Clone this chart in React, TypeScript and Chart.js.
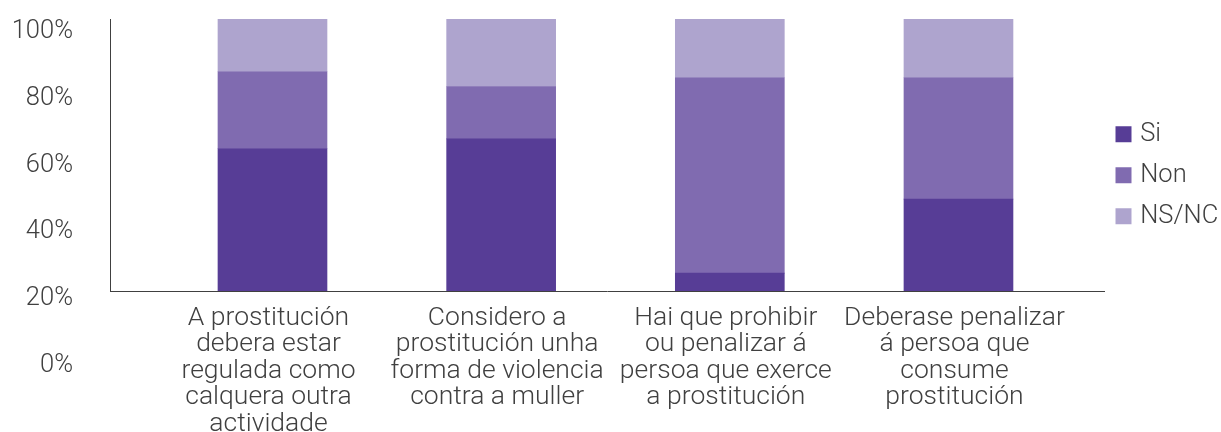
import React, { useEffect, useRef } from 'react';
import { Chart, registerables } from 'chart.js';

Chart.register(...registerables);

// ---- data ----
const categories: string[][] = [
  ['A prostitución', 'debera estar', 'regulada como', 'calquera outra', 'actividade'],
  ['Considero a', 'prostitución unha', 'forma de violencia', 'contra a muller'],
  ['Hai que prohibir', 'ou penalizar á', 'persoa que exerce', 'a prostitución'],
  ['Deberase penalizar', 'á persoa que', 'consume', 'prostitución'],
];
const categoryPositions = [1, 2, 3, 4];
const siValues = [52.3, 55.9, 6.6, 33.8];
const nonValues = [28.3, 19.3, 71.8, 44.6];
const nsncValues = [19.4, 24.8, 21.6, 21.6];
const seriesLabels = ['Si', 'Non', 'NS/NC'];
const seriesColors = ['#573d96', '#806bb0', '#aea4ce'];
const yTickValues = [0, 20, 40, 60, 80, 100];

const TEXT = '#404040';
const FONT = 'Roboto';

export default function App() {
  const ref = useRef<HTMLCanvasElement | null>(null);

  useEffect(() => {
    if (!ref.current) return;
    const series = [siValues, nonValues, nsncValues];
    const chart = new Chart(ref.current, {
      type: 'bar',
      data: {
        datasets: series.map((vals, si) => ({
          label: seriesLabels[si],
          data: vals.map((v, i) => ({ x: categoryPositions[i], y: v })),
          backgroundColor: seriesColors[si],
          borderWidth: 0,
          barThickness: 109,
          yAxisID: 'y',
          xAxisID: 'x',
        })),
      },
      options: {
        responsive: false,
        animation: false,
        layout: { padding: { top: 19, left: 0, right: 0, bottom: 0 } },
        font: { family: FONT },
        plugins: {
          tooltip: { enabled: false },
          legend: {
            position: 'right',
            align: 'start',
            maxWidth: 117,
            title: {
              display: true,
              text: '',
              font: { size: 12, lineHeight: 1 },
              padding: { top: 75, bottom: 0 },
            },
            labels: {
              boxWidth: 8,
              boxHeight: 8,
              padding: 15.5,
              color: TEXT,
              font: { family: FONT, size: 25.5, weight: '300' as any },
              generateLabels: (c: any) =>
                c.data.datasets.map((ds: any, i: number) => ({
                  text: ds.label,
                  fillStyle: ds.backgroundColor,
                  strokeStyle: ds.backgroundColor,
                  lineWidth: 8,
                  lineJoin: 'miter',
                  hidden: false,
                  datasetIndex: i,
                  fontColor: TEXT,
                })),
            },
          },
        },
        scales: {
          x: {
            type: 'linear',
            position: 'bottom',
            stacked: true,
            offset: false,
            min: 0.2894,
            max: 4.6364,
            bounds: 'data',
            grid: { display: false, drawTicks: false, offset: false },
            border: { display: true, color: '#404040', width: 1 },
            afterBuildTicks: (scale: any) => {
              scale.ticks = categoryPositions.map((v) => ({ value: v }));
            },
            afterFit: (scale: any) => {
              scale.height = 141;
              scale.paddingLeft = 0;
              scale.paddingRight = 0;
            },
            ticks: {
              autoSkip: false,
              maxRotation: 0,
              minRotation: 0,
              padding: 14,
              labelOffset: -4,
              color: TEXT,
              font: { family: FONT, size: 26.5, weight: '300' as any, lineHeight: 1.0 },
              callback: (v: any) => {
                const idx = categoryPositions.indexOf(Number(v));
                return idx >= 0 ? categories[idx] : '';
              },
            },
          },
          y: {
            display: false,
            stacked: true,
            min: 0,
            max: 100,
          },
          yLabels: {
            type: 'linear',
            position: 'left',
            offset: false,
            min: 22.34,
            max: 103.9,
            bounds: 'data',
            grid: { display: false, drawTicks: false },
            border: { display: true, color: '#404040', width: 1 },
            afterBuildTicks: (scale: any) => {
              scale.ticks = yTickValues.map((v) => ({ value: v }));
            },
            afterFit: (scale: any) => {
              scale.width = 110;
              scale.paddingTop = 0;
              scale.paddingBottom = 0;
            },
            ticks: {
              autoSkip: false,
              padding: 37,
              color: TEXT,
              font: { family: FONT, size: 25.5, weight: '300' as any },
              callback: (v: any) => `${v}%`,
            },
          },
        },
      } as any,
    });
    return () => chart.destroy();
  }, []);

  return (
    <div style={{ position: 'fixed', left: 0, top: 0, width: 1221, height: 432, background: '#ffffff' }}>
      <canvas ref={ref} width={1221} height={432} style={{ display: 'block' }} />
    </div>
  );
}
